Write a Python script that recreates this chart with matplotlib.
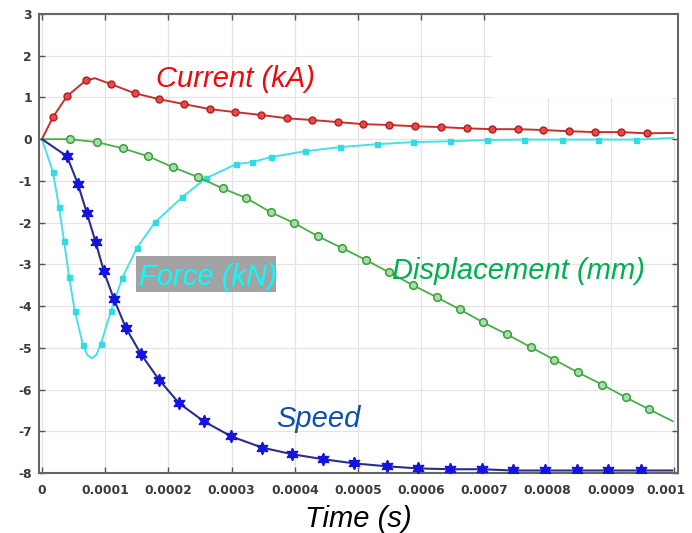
import matplotlib
matplotlib.use("Agg")
import matplotlib.pyplot as plt
from matplotlib.patches import Rectangle
from matplotlib.transforms import ScaledTranslation
import numpy as np

# ---- data (time in units of 1e-4 s) ----
cur_t = [0, 0.174, 0.396, 0.696, 0.84, 1.09, 1.47, 1.85, 2.25, 2.66, 3.05, 3.47, 3.88, 4.27,
         4.68, 5.08, 5.49, 5.90, 6.31, 6.72, 7.12, 7.53, 7.93, 8.34, 8.75, 9.16, 9.57, 9.98]
cur_y = [0, 0.53, 1.03, 1.41, 1.46, 1.32, 1.10, 0.96, 0.84, 0.72, 0.65, 0.58, 0.50, 0.46,
         0.41, 0.36, 0.34, 0.31, 0.29, 0.26, 0.24, 0.24, 0.22, 0.19, 0.17, 0.17, 0.14, 0.15]
cur_mark = [1, 2, 3, 5, 6, 7, 8, 9, 10, 11, 12, 13, 14, 15, 16, 17, 18, 19, 20, 21, 22, 23, 24, 25, 26]

force_t = [0, 0.174, 0.27, 0.35, 0.43, 0.52, 0.65, 0.72, 0.79, 0.86, 0.93, 1.09, 1.27, 1.50, 1.79, 2.22,
           2.59, 3.07, 3.32, 3.62, 4.16, 4.72, 5.30, 5.87, 6.46, 7.04, 7.63, 8.23, 8.80, 9.40, 9.98]
force_y = [0, -0.79, -1.63, -2.45, -3.31, -4.12, -4.94, -5.18, -5.25, -5.17, -4.92, -4.12, -3.33, -2.61, -1.99, -1.39,
           -0.94, -0.60, -0.55, -0.43, -0.29, -0.19, -0.12, -0.07, -0.05, -0.02, -0.01, -0.01, -0.01, -0.01, 0.03]
force_mark = [1, 2, 3, 4, 5, 6] + list(range(10, 30))

disp_t = [0, 0.44, 0.87, 1.28, 1.68, 2.07, 2.47, 2.86, 3.23, 3.62, 3.99, 4.37, 4.75, 5.13,
          5.49, 5.87, 6.25, 6.61, 6.98, 7.36, 7.74, 8.10, 8.48, 8.86, 9.24, 9.60, 9.98]
disp_y = [0, 0, -0.07, -0.22, -0.41, -0.67, -0.91, -1.18, -1.41, -1.75, -2.01, -2.33, -2.61, -2.90,
          -3.19, -3.50, -3.79, -4.08, -4.39, -4.68, -4.99, -5.28, -5.59, -5.88, -6.19, -6.47, -6.76]

speed_t = [0, 0.396, 0.57, 0.71, 0.85, 0.98, 1.14, 1.33, 1.57, 1.85, 2.17, 2.56, 2.99, 3.48,
           3.96, 4.45, 4.94, 5.46, 5.95, 6.46, 6.96, 7.45, 7.96, 8.47, 8.96, 9.48, 9.97]
speed_y = [0, -0.41, -1.08, -1.77, -2.47, -3.17, -3.84, -4.53, -5.16, -5.76, -6.33, -6.76, -7.12, -7.39,
           -7.55, -7.67, -7.77, -7.84, -7.89, -7.91, -7.91, -7.94, -7.94, -7.94, -7.94, -7.94, -7.94]

x_ticks = [0, 0.0001, 0.0002, 0.0003, 0.0004, 0.0005, 0.0006, 0.0007, 0.0008, 0.0009, 0.001]
x_labels = ["0", "0.0001", "0.0002", "0.0003", "0.0004", "0.0005", "0.0006", "0.0007", "0.0008", "0.0009", "0.001"]
y_ticks = [-8, -7, -6, -5, -4, -3, -2, -1, 0, 1, 2, 3]

W, H = 692, 533
fig = plt.figure(figsize=(W / 100, H / 100), dpi=100)
ax = fig.add_axes([39 / W, 1 - 473 / H, (678 - 39) / W, (473 - 14) / H])

s = 1e-4
def T(a):
    return np.asarray(a) * s

# grid + white patch region
ax.set_axisbelow(True)
ax.grid(True, color="#e4e4e4", linewidth=0.9)
ax.add_patch(Rectangle((7.12e-4, 0.98), 0.0003, 2.1, facecolor="white", edgecolor="none", zorder=1))

ax.plot(T(cur_t), cur_y, color="#c83030", lw=1.4, zorder=3,
        marker="o", markevery=cur_mark, ms=5, mfc="#e84848", mec="#b02020", mew=1.0)
ax.plot(T(force_t), force_y, color="#48e0e6", lw=1.4, zorder=3,
        marker="s", markevery=force_mark, ms=3.6, mfc="#30dce4", mec="#30dce4")
ax.plot(T(disp_t), disp_y, color="#4aae4a", lw=1.3, zorder=3,
        marker="o", markevery=list(range(1, len(disp_t) - 1)), ms=5.5, mfc="#a8dca8", mec="#3c9e3c", mew=1.1)
ax.plot(T(speed_t), speed_y, color="#2c2c8c", lw=1.5, zorder=3,
        marker=(6, 1, 0), markevery=list(range(1, len(speed_t) - 1)), ms=9, mfc="#1414e0", mec="#1414e0")

ax.set_xlim(-4.7e-6, 1.0063e-3)
ax.set_ylim(-8, 3)
ax.set_xticks(x_ticks)
ax.set_xticklabels(x_labels)
ax.set_yticks(y_ticks)
ax.set_yticklabels([str(v) for v in y_ticks])
ax.tick_params(direction="in", top=True, right=True, length=4, width=1, color="#555555",
               labelsize=8.9, labelcolor="#3a3a3a", pad=5)
ax.tick_params(axis="x", pad=8)
for lab in ax.get_xticklabels() + ax.get_yticklabels():
    lab.set_fontweight("bold")
    lab.set_family("DejaVu Sans")
last = ax.get_xticklabels()[-1]
last.set_transform(last.get_transform() + ScaledTranslation(-6 / 72, 0, fig.dpi_scale_trans))
ax.tick_params(labelright=False, labeltop=False)
for sp in ax.spines.values():
    sp.set_color("#666666")
    sp.set_linewidth(1.5)

def ftxt(x, y, s, color, **kw):
    return fig.text(x / W, 1 - y / H, s, color=color, fontsize=21, style="italic",
                    family="Liberation Sans", ha="left", va="baseline", **kw)

ftxt(156, 87, "Current (kA)", "#ee0a0a")
fig.patches.append(Rectangle((136 / W, 1 - 292 / H), (276 - 136) / W, (292 - 256) / H,
                             transform=fig.transFigure, facecolor="#a3a3a3", edgecolor="none", zorder=5))
ftxt(139, 285, "Force (kN)", "#00ffff", zorder=6)
ftxt(392, 279, "Displacement (mm)", "#00b050")
ftxt(276, 427, "Speed", "#0f4fae")
ftxt(305, 527, "Time (s)", "black")

fig.savefig("out.png", dpi=100)
